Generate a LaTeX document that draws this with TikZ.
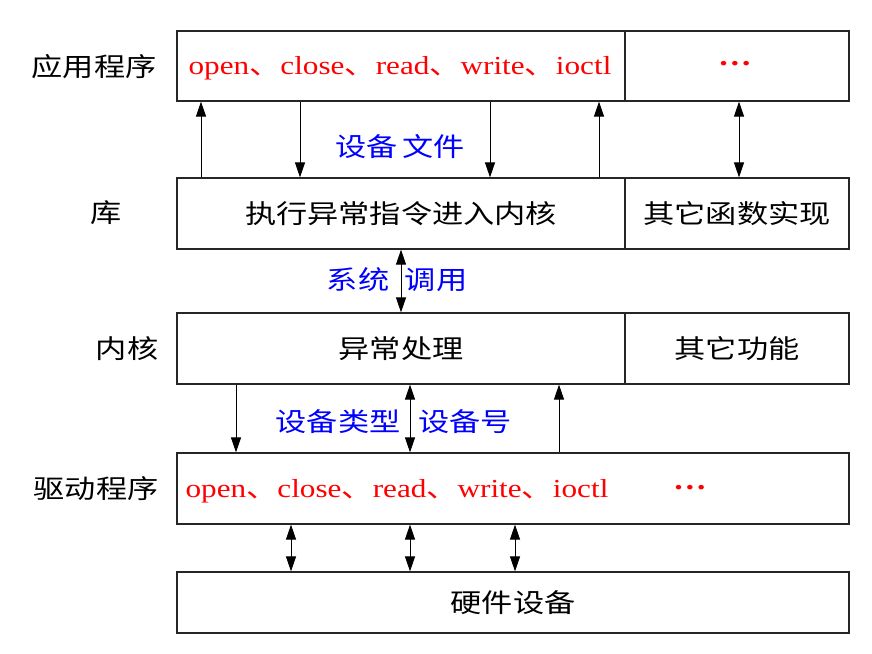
\documentclass[tikz,border=0pt]{standalone}
\usepackage{fontspec}
\setmainfont[FakeStretch=1.2]{Liberation Serif}
\newfontfamily\cjk[FakeStretch=1.2]{Noto Sans CJK SC}
\usetikzlibrary{arrows.meta}
\begin{document}
\begin{tikzpicture}[x=1pt,y=-1pt,
  cell/.style={draw=black!85,line width=1.2pt,rectangle,inner sep=0pt,font=\cjk\fontsize{26}{26}\selectfont},
  lbl/.style={inner sep=0pt,font=\cjk\fontsize{26}{26}\selectfont},
  blu/.style={inner sep=0pt,text=blue,font=\cjk\fontsize{26}{26}\selectfont},
  red/.style={inner sep=0pt,text=red,font=\fontsize{26}{26}\selectfont},
  up/.style={line width=1pt,-{Triangle[length=15pt,width=10pt]}},
  dn/.style={line width=1pt,-{Triangle[length=15pt,width=10pt]}},
  both/.style={line width=1pt,{Triangle[length=15pt,width=10pt]}-{Triangle[length=15pt,width=10pt]}}]
\useasboundingbox (0,0) rectangle (872,653);
% boxes
\node[cell,minimum width=448pt,minimum height=70pt] (app1) at (401,66) {};
\node[cell,minimum width=224pt,minimum height=70pt] (app2) at (737,66) {};
\node[cell,minimum width=448pt,minimum height=71pt] (lib1) at (401,213.5) {执行异常指令进入内核};
\node[cell,minimum width=224pt,minimum height=71pt] (lib2) at (737,213.5) {其它函数实现};
\node[cell,minimum width=448pt,minimum height=71pt] (ker1) at (401,348.5) {异常处理};
\node[cell,minimum width=224pt,minimum height=71pt] (ker2) at (737,348.5) {其它功能};
\node[cell,minimum width=672pt,minimum height=71pt] (drv) at (513,488.5) {};
\node[cell,minimum width=672pt,minimum height=61pt] (hw) at (513,602.5) {硬件设备};
% red texts
\node[red] (appfn) at (400,68) {open{\cjk 、}close{\cjk 、}read{\cjk 、}write{\cjk 、}ioctl};
\node[red,font=\bfseries\fontsize{28}{28}\selectfont] (appdots) at (735,64) {…};
\node[red] (drvfn) at (397,491) {open{\cjk 、}close{\cjk 、}read{\cjk 、}write{\cjk 、}ioctl};
\node[red,font=\bfseries\fontsize{28}{28}\selectfont] (drvdots) at (690,488) {…};
% left labels
\node[lbl] (l1) at (94,67) {应用程序};
\node[lbl] (l2) at (106,213) {库};
\node[lbl] (l3) at (127,349) {内核};
\node[lbl] (l4) at (96,489) {驱动程序};
% blue labels
\node[blu] (b1) at (400,147) {设备\,文件};
\node[blu] (b2) at (358,280) {系统};
\node[blu] (b3) at (436,280) {调用};
\node[blu] (b4) at (338,422) {设备类型};
\node[blu] (b5) at (465,422) {设备号};
% arrows app <-> lib
\draw[up] (lib1.north -| 201,0) -- (app1.south -| 201,0);
\draw[dn] (app1.south -| 300,0) -- (lib1.north -| 300,0);
\draw[dn] (app1.south -| 490,0) -- (lib1.north -| 490,0);
\draw[up] (lib1.north -| 599,0) -- (app1.south -| 599,0);
\draw[both] (app2.south -| 739,0) -- (lib2.north -| 739,0);
% lib <-> kernel
\draw[both] (lib1.south) -- (ker1.north);
% kernel <-> driver
\draw[dn] (ker1.south -| 236,0) -- (drv.north -| 236,0);
\draw[both] (ker1.south -| 410,0) -- (drv.north -| 410,0);
\draw[up] (drv.north -| 559,0) -- (ker1.south -| 559,0);
% driver <-> hardware
\draw[both] (drv.south -| 291,0) -- (hw.north -| 291,0);
\draw[both] (drv.south -| 410,0) -- (hw.north -| 410,0);
\draw[both] (drv.south -| 515,0) -- (hw.north -| 515,0);
\end{tikzpicture}
\end{document}
